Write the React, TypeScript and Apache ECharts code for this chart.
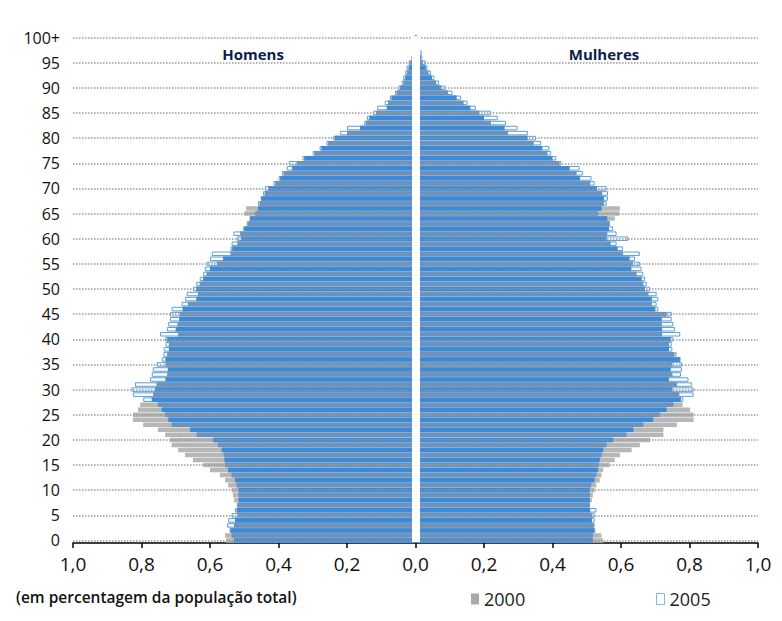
import React, { useEffect, useRef } from 'react';
import * as echarts from 'echarts';

const ageLabels: string[] = Array.from({ length: 101 }, (_, i) => (i === 100 ? '100+' : String(i)));

// Homens 2005 (% of total population), ages 0..100+
const homens2005 = [
  0.530, 0.537, 0.543, 0.550, 0.547, 0.537, 0.527, 0.520, 0.517, 0.517,
  0.517, 0.522, 0.527, 0.537, 0.547, 0.556, 0.558, 0.560, 0.566, 0.577,
  0.591, 0.639, 0.658, 0.712, 0.722, 0.731, 0.741, 0.752, 0.795, 0.825,
  0.829, 0.819, 0.775, 0.770, 0.767, 0.756, 0.741, 0.736, 0.735, 0.730,
  0.731, 0.746, 0.726, 0.722, 0.717, 0.717, 0.712, 0.683, 0.673, 0.668,
  0.650, 0.640, 0.630, 0.620, 0.615, 0.610, 0.600, 0.595, 0.540, 0.537,
  0.522, 0.532, 0.503, 0.493, 0.483, 0.468, 0.460, 0.460, 0.452, 0.445,
  0.440, 0.415, 0.400, 0.390, 0.376, 0.370, 0.330, 0.300, 0.280, 0.260,
  0.240, 0.220, 0.200, 0.150, 0.142, 0.124, 0.112, 0.090, 0.075, 0.060,
  0.050, 0.040, 0.036, 0.030, 0.026, 0.020, 0.012, 0.008, 0.005, 0.003,
  0.003,
];

// Homens 2000
const homens2000 = [
  0.553, 0.556, 0.540, 0.530, 0.527, 0.520, 0.522, 0.522, 0.530, 0.533,
  0.537, 0.547, 0.556, 0.571, 0.600, 0.620, 0.650, 0.673, 0.693, 0.712,
  0.717, 0.731, 0.752, 0.795, 0.825, 0.825, 0.810, 0.804, 0.770, 0.766,
  0.760, 0.756, 0.730, 0.725, 0.723, 0.730, 0.730, 0.725, 0.720, 0.720,
  0.725, 0.693, 0.700, 0.695, 0.690, 0.688, 0.680, 0.664, 0.640, 0.635,
  0.640, 0.630, 0.620, 0.610, 0.600, 0.580, 0.562, 0.540, 0.535, 0.520,
  0.510, 0.512, 0.500, 0.490, 0.485, 0.500, 0.495, 0.455, 0.450, 0.440,
  0.430, 0.410, 0.395, 0.385, 0.360, 0.347, 0.325, 0.295, 0.275, 0.255,
  0.235, 0.200, 0.162, 0.145, 0.135, 0.115, 0.084, 0.080, 0.070, 0.055,
  0.045, 0.035, 0.030, 0.025, 0.020, 0.015, 0.010, 0.006, 0.004, 0.002,
  0.002,
];

// Mulheres 2005
const mulheres2005 = [
  0.518, 0.518, 0.523, 0.523, 0.523, 0.523, 0.528, 0.509, 0.509, 0.509,
  0.509, 0.513, 0.523, 0.528, 0.533, 0.535, 0.538, 0.543, 0.548, 0.558,
  0.577, 0.616, 0.636, 0.665, 0.694, 0.714, 0.733, 0.753, 0.782, 0.812,
  0.812, 0.807, 0.797, 0.775, 0.778, 0.778, 0.773, 0.755, 0.750, 0.748,
  0.753, 0.773, 0.758, 0.753, 0.748, 0.748, 0.709, 0.704, 0.709, 0.704,
  0.685, 0.675, 0.670, 0.665, 0.660, 0.655, 0.641, 0.655, 0.606, 0.587,
  0.621, 0.587, 0.577, 0.567, 0.560, 0.533, 0.543, 0.558, 0.562, 0.562,
  0.558, 0.523, 0.514, 0.489, 0.479, 0.426, 0.411, 0.396, 0.391, 0.367,
  0.352, 0.328, 0.298, 0.264, 0.240, 0.220, 0.176, 0.152, 0.133, 0.108,
  0.088, 0.069, 0.055, 0.045, 0.035, 0.030, 0.020, 0.018, 0.010, 0.005,
  0.005,
];

// Mulheres 2000
const mulheres2000 = [
  0.548, 0.543, 0.525, 0.520, 0.515, 0.515, 0.510, 0.509, 0.515, 0.518,
  0.523, 0.528, 0.538, 0.543, 0.548, 0.567, 0.582, 0.597, 0.631, 0.655,
  0.685, 0.724, 0.724, 0.763, 0.812, 0.812, 0.802, 0.780, 0.775, 0.770,
  0.750, 0.763, 0.740, 0.750, 0.745, 0.750, 0.773, 0.763, 0.740, 0.740,
  0.745, 0.720, 0.720, 0.719, 0.719, 0.733, 0.700, 0.690, 0.690, 0.680,
  0.670, 0.665, 0.660, 0.645, 0.630, 0.635, 0.625, 0.606, 0.590, 0.570,
  0.558, 0.560, 0.565, 0.567, 0.582, 0.595, 0.597, 0.550, 0.550, 0.545,
  0.530, 0.510, 0.480, 0.470, 0.450, 0.420, 0.400, 0.385, 0.370, 0.345,
  0.327, 0.270, 0.260, 0.220, 0.200, 0.186, 0.160, 0.140, 0.120, 0.095,
  0.075, 0.060, 0.048, 0.038, 0.030, 0.022, 0.015, 0.010, 0.007, 0.004,
  0.003,
];

const gridAges = ['0', '5', '10', '15', '20', '25', '30', '35', '40', '45', '50', '55', '60', '65', '70', '75', '80', '85', '90', '95', '100+'];

export default function App() {
  const ref = useRef<HTMLDivElement>(null);

  useEffect(() => {
    if (!ref.current) return;
    const chart = echarts.init(ref.current, null, { renderer: 'svg' });

    const stripe = ['#3b8bd9', '#6d92bd'];
    const overlapM = homens2000.map((v, i) => -Math.min(v, homens2005[i]));
    const overlapF = mulheres2000.map((v, i) => Math.min(v, mulheres2005[i]));
    const hollowStyle = { color: '#ffffff', borderColor: '#5b9fd8', borderWidth: 1 };
    const greyStyle = { color: '#b7b7b7' };
    const blueStyle = { color: (p: any) => stripe[p.dataIndex % 2] };
    const base = { type: 'bar', barGap: '-100%', barCategoryGap: '10%', z: 2, silent: true };
    const font = "'Open Sans', 'DejaVu Sans', sans-serif";

    chart.setOption({
      animation: false,
      backgroundColor: '#ffffff',
      grid: { left: 73, right: 24, top: 35, bottom: 78, containLabel: false },
      xAxis: {
        type: 'value',
        min: -1,
        max: 1,
        interval: 0.2,
        splitLine: { show: false },
        axisLine: { show: true, lineStyle: { color: '#000', width: 1.5 } },
        axisTick: { show: true, length: 5, lineStyle: { color: '#000', width: 1.5 } },
        axisLabel: {
          fontSize: 19,
          color: '#111',
          fontFamily: font,
          margin: 11,
          formatter: (v: number) => Math.abs(v).toFixed(1).replace('.', ','),
        },
      },
      yAxis: {
        type: 'category',
        data: ageLabels,
        axisLine: { show: false },
        axisTick: { show: false },
        splitLine: { show: false },
        axisLabel: { interval: 4, fontSize: 16, color: '#111', fontFamily: font, margin: 13 },
      },
      legend: [
        {
          left: 466,
          top: 585,
          icon: 'rect',
          itemWidth: 8,
          itemHeight: 11,
          selectedMode: false,
          textStyle: { fontSize: 18, color: '#222', fontFamily: font },
          data: [{ name: '2000', itemStyle: { color: '#a9a9a9' } }],
        },
        {
          left: 651,
          top: 585,
          icon: 'rect',
          itemWidth: 8,
          itemHeight: 11,
          selectedMode: false,
          textStyle: { fontSize: 18, color: '#222', fontFamily: font },
          data: [{ name: '2005', itemStyle: { color: '#ffffff', borderColor: '#7fb8e0', borderWidth: 1 } }],
        },
      ],
      series: [
        {
          name: 'grade',
          type: 'line',
          data: [],
          z: 0,
          silent: true,
          markLine: {
            silent: true,
            symbol: 'none',
            label: { show: false },
            lineStyle: { type: 'dotted', color: '#999999', width: 1.5 },
            data: gridAges.map((a) => ({ yAxis: a })),
          },
        },
        { ...base, name: '2005', data: homens2005.map((v) => -v), itemStyle: hollowStyle },
        { ...base, name: '2005', data: mulheres2005, itemStyle: hollowStyle },
        { ...base, name: '2000', data: homens2000.map((v) => -v), itemStyle: greyStyle },
        { ...base, name: '2000', data: mulheres2000, itemStyle: greyStyle },
        { ...base, name: 'comum', data: overlapM, itemStyle: blueStyle },
        { ...base, name: 'comum', data: overlapF, itemStyle: blueStyle },
      ],
      graphic: [
        { type: 'rect', shape: { x: 412, y: 36, width: 8, height: 506 }, style: { fill: '#ffffff' }, z: 100 },
        {
          type: 'text',
          x: 253,
          y: 54,
          style: { text: 'Homens', fill: '#0b1e4a', font: `bold 15px ${font}`, textAlign: 'center', textVerticalAlign: 'middle' },
          z: 100,
        },
        {
          type: 'text',
          x: 604,
          y: 54,
          style: { text: 'Mulheres', fill: '#0b1e4a', font: `bold 15px ${font}`, textAlign: 'center', textVerticalAlign: 'middle' },
          z: 100,
        },
        {
          type: 'text',
          x: 16,
          y: 597,
          style: {
            text: '(em percentagem da população total)',
            fill: '#111',
            font: `600 15.5px ${font}`,
            textAlign: 'left',
            textVerticalAlign: 'middle',
          },
          z: 100,
        },
      ],
    });

    return () => chart.dispose();
  }, []);

  return (
    <div
      ref={ref}
      style={{ position: 'fixed', left: 0, top: 0, width: 782, height: 621, background: '#fff' }}
    />
  );
}
